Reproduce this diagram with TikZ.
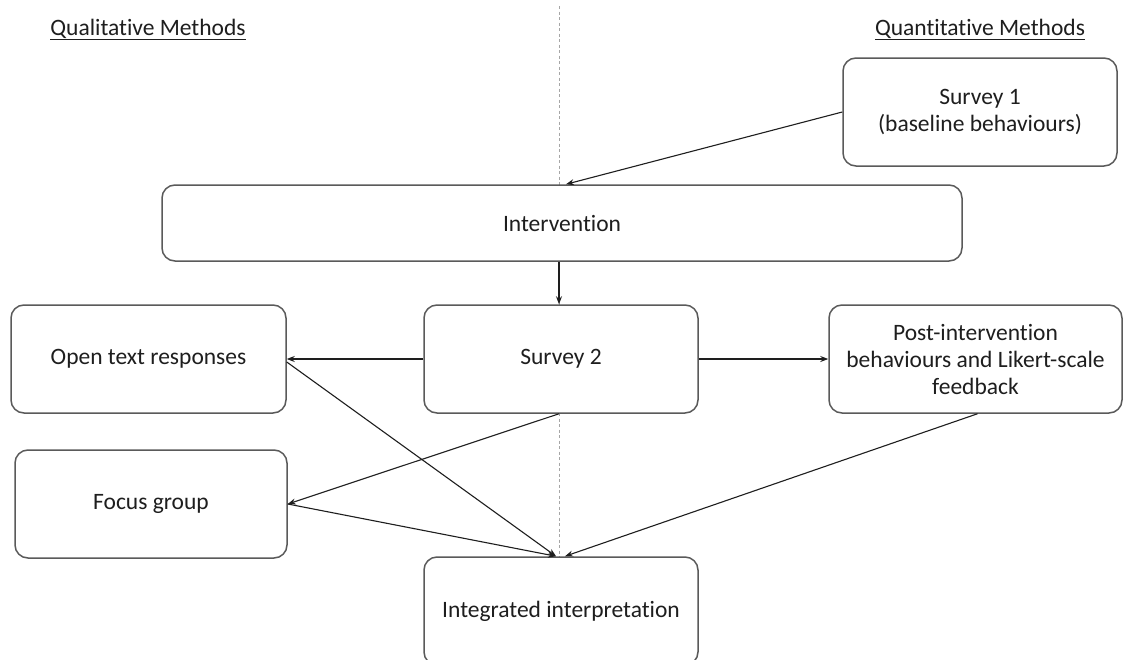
\documentclass[tikz,border=0pt]{standalone}
\usepackage{fontspec}
\setmainfont{Carlito}[Ligatures=NoCommon]
\usetikzlibrary{arrows.meta}
\definecolor{txt}{HTML}{1E1E1E}
\definecolor{boxline}{HTML}{5A5A5A}
\begin{document}
\begin{tikzpicture}[x=1pt,y=-1pt,
  box/.style={draw=boxline, line width=1.5pt, fill=white, rounded corners=13pt,
    text=txt, font=\fontsize{23.5}{27}\selectfont, align=center,
    inner sep=0pt, minimum height=108pt},
  title/.style={text=txt, font=\fontsize{23.5}{27}\selectfont, anchor=base, inner sep=0pt},
  arr/.style={draw=txt, line width=1.1pt, -{Stealth[length=8pt,width=6pt]}},
  sep/.style={draw=gray!70, line width=0.9pt, dash pattern=on 3pt off 2.5pt}]
\clip (0,0) rectangle (1125,659);
\fill[white] (0,0) rectangle (1125,659);
\coordinate (dtop) at (559,6);
\coordinate (dbot) at (559,659);
\draw[sep] (dtop) -- (dbot);
\node[title] (ql) at (148,35) {\underline{Qualitative Methods}};
\node[title] (qn) at (980,35) {\underline{Quantitative Methods}};
\node[box, minimum width=274pt] (s1) at (980,112) {Survey 1\\(baseline behaviours)};
\node[box, minimum width=800pt, minimum height=76pt] (iv) at (562,223) {Intervention};
\node[box, minimum width=274pt] (s2) at (561,359) {Survey 2};
\node[box, minimum width=275pt] (ot) at (148.5,359) {Open text responses};
\node[box, minimum width=293pt] (pi) at (975.5,359) {Post-intervention\\behaviours and Likert-scale\\feedback};
\node[box, minimum width=272pt] (fg) at (151,504) {Focus group};
\node[box, minimum width=274pt] (ii) at (561,611) {Integrated interpretation};
\coordinate (s2top) at ([xshift=-2pt]s2.north);
\draw[arr] (s2top |- iv.south) -- (s2top);
\draw[arr] (s1.west) -- ([xshift=4pt]iv.north);
\draw[arr] (s2.west) -- (ot.east);
\draw[arr] (s2.east) -- (pi.west);
\draw[arr] ([xshift=-2pt]s2.south) -- (fg.east);
\draw[arr] ([yshift=-3pt]ot.east) -- ([xshift=-5pt]ii.north);
\draw[arr] (fg.east) -- ([xshift=-5pt]ii.north);
\draw[arr] ([xshift=2pt]pi.south) -- ([xshift=4pt]ii.north);
\end{tikzpicture}
\end{document}
